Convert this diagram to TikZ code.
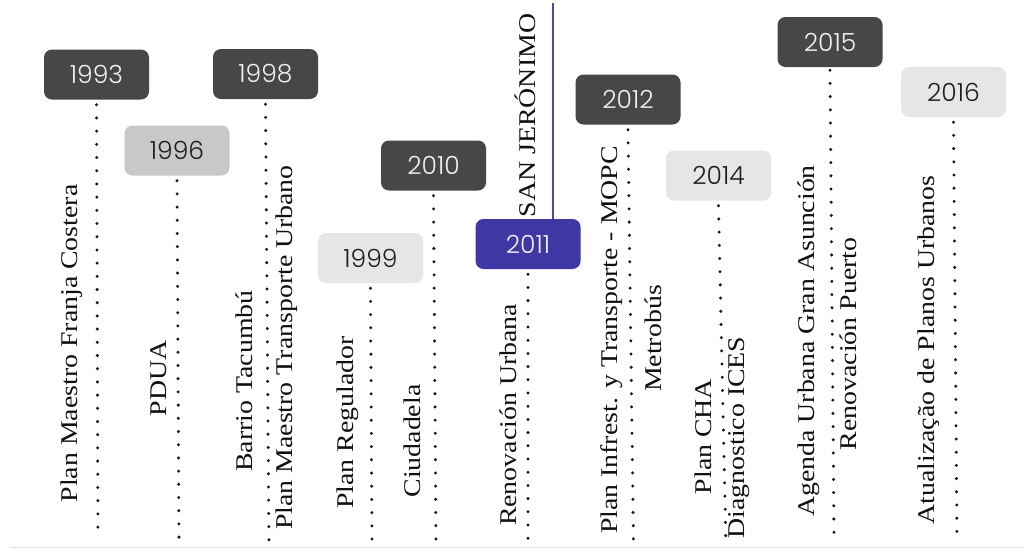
\documentclass[tikz,border=0pt]{standalone}
\usepackage{fontspec}
\usepackage{graphicx}
\setmainfont{Liberation Serif}
\newfontfamily\yearfont{Poppins Light}
\definecolor{boxdark}{HTML}{474747}
\definecolor{boxmid}{HTML}{C8C8C8}
\definecolor{boxlight}{HTML}{E6E6E6}
\definecolor{boxpurple}{HTML}{3F37A3}
\definecolor{linepurple}{HTML}{5046B0}
\definecolor{dotcol}{HTML}{141414}
\definecolor{labcol}{HTML}{111111}
\newcommand\sx[1]{\scalebox{1.16}[1]{#1}}
\begin{document}
\begin{tikzpicture}[x=1pt,y=-1pt,
  yearbox/.style={rounded corners=8pt, minimum width=105pt, minimum height=50pt, inner sep=0pt,
    font=\yearfont\fontsize{25}{25}\selectfont},
  ydark/.style={yearbox, fill=boxdark, text=white!94!black},
  ymid/.style={yearbox, fill=boxmid, text=black!88},
  ylight/.style={yearbox, fill=boxlight, text=black!88},
  ypurple/.style={yearbox, fill=boxpurple, text=white!94!black},
  dotline/.style={draw=dotcol, line width=3.3pt, line cap=round, dash pattern=on 0pt off 13.2pt},
  lab/.style={rotate=90, anchor=base, inner sep=0pt, text=labcol, font=\fontsize{24}{24}\selectfont},
  purpline/.style={draw=linepurple, line width=1.4pt}
]
\useasboundingbox (0,0) rectangle (1024,550);
\fill[white] (0,0) rectangle (1024,550);
\draw[black!12, line width=1pt] (10,547) -- (1024,547);

% year boxes
\node[ydark]   (y1993) at (96.5,74.5)  {1993};
\node[ymid]    (y1996) at (177,150.5)  {1996};
\node[ydark]   (y1998) at (265.5,74)   {1998};
\node[ylight]  (y1999) at (370.5,258)  {1999};
\node[ydark]   (y2010) at (433.5,165.5){2010};
\node[ypurple] (y2011) at (528,244)    {2011};
\node[ydark]   (y2012) at (628,99.5)   {2012};
\node[ylight]  (y2014) at (718.5,175.5){2014};
\node[ydark]   (y2015) at (830,42)     {2015};
\node[ylight]  (y2016) at (953.5,92)   {2016};

% end points of the dotted lines
\coordinate (e1993) at (98,539);
\coordinate (e1996) at (179,539);
\coordinate (e1998) at (269,550);
\coordinate (e1999) at (372,543);
\coordinate (e2010) at (436,544);
\coordinate (e2011) at (528,548);
\coordinate (e2012) at (633.5,543);
\coordinate (e2014) at (726,548);
\coordinate (e2015) at (834,534);
\coordinate (e2016) at (957,542);

\draw[dotline] ([yshift=-5pt]y1993.south) -- (e1993);
\draw[dotline] ([yshift=-5pt]y1996.south) -- (e1996);
\draw[dotline] ([yshift=-5pt]y1998.south) -- (e1998);
\draw[dotline] ([yshift=-5pt]y1999.south) -- (e1999);
\draw[dotline] ([yshift=-5pt]y2010.south) -- (e2010);
\draw[dotline] ([yshift=-5pt]y2011.south) -- (e2011);
\draw[dotline] ([yshift=-5pt]y2012.south) -- (e2012);
\draw[dotline] ([yshift=-5pt]y2014.south) -- (e2014);
\draw[dotline] ([yshift=-3pt]y2015.south) -- (e2015);
\draw[dotline] ([yshift=-5pt]y2016.south) -- (e2016);

% purple line from 2011
\coordinate (sjtop) at (553,3);
\draw[purpline] (sjtop) -- (sjtop |- y2011.north);

% labels
\node[lab] (l1993)  at (77,343.5)  {\sx{Plan Maestro Franja Costera}};
\node[lab] (l1996)  at (166,378.5) {\sx{PDUA}};
\node[lab] (l1998a) at (252,381)   {\sx{Barrio Tacumbú}};
\node[lab] (l1998b) at (292,347.5) {\sx{Plan Maestro Transporte Urbano}};
\node[lab] (l1999)  at (353,422.5) {\sx{Plan Regulador}};
\node[lab] (l2010)  at (420,441)   {\sx{Ciudadela}};
\node[lab] (l2011)  at (516,415)   {\sx{Renovación Urbana}};
\node[lab] (lsj)    at (535,115.5) {\sx{SAN JERÓNIMO}};
\node[lab] (l2012a) at (617,340)   {\sx{Plan Infrest. y Transporte - MOPC}};
\node[lab] (l2012b) at (661,338.5) {\sx{Metrobús}};
\node[lab] (l2014a) at (711,436.5) {\sx{Plan CHA}};
\node[lab] (l2014b) at (744,437.5) {\sx{Diagnostico ICES}};
\node[lab] (l2015a) at (814,341)   {\sx{Agenda Urbana Gran Asunción}};
\node[lab] (l2015b) at (856,344)   {\sx{Renovación Puerto}};
\node[lab] (l2016)  at (934,350)   {\sx{Atualização de Planos Urbanos}};
\end{tikzpicture}
\end{document}
